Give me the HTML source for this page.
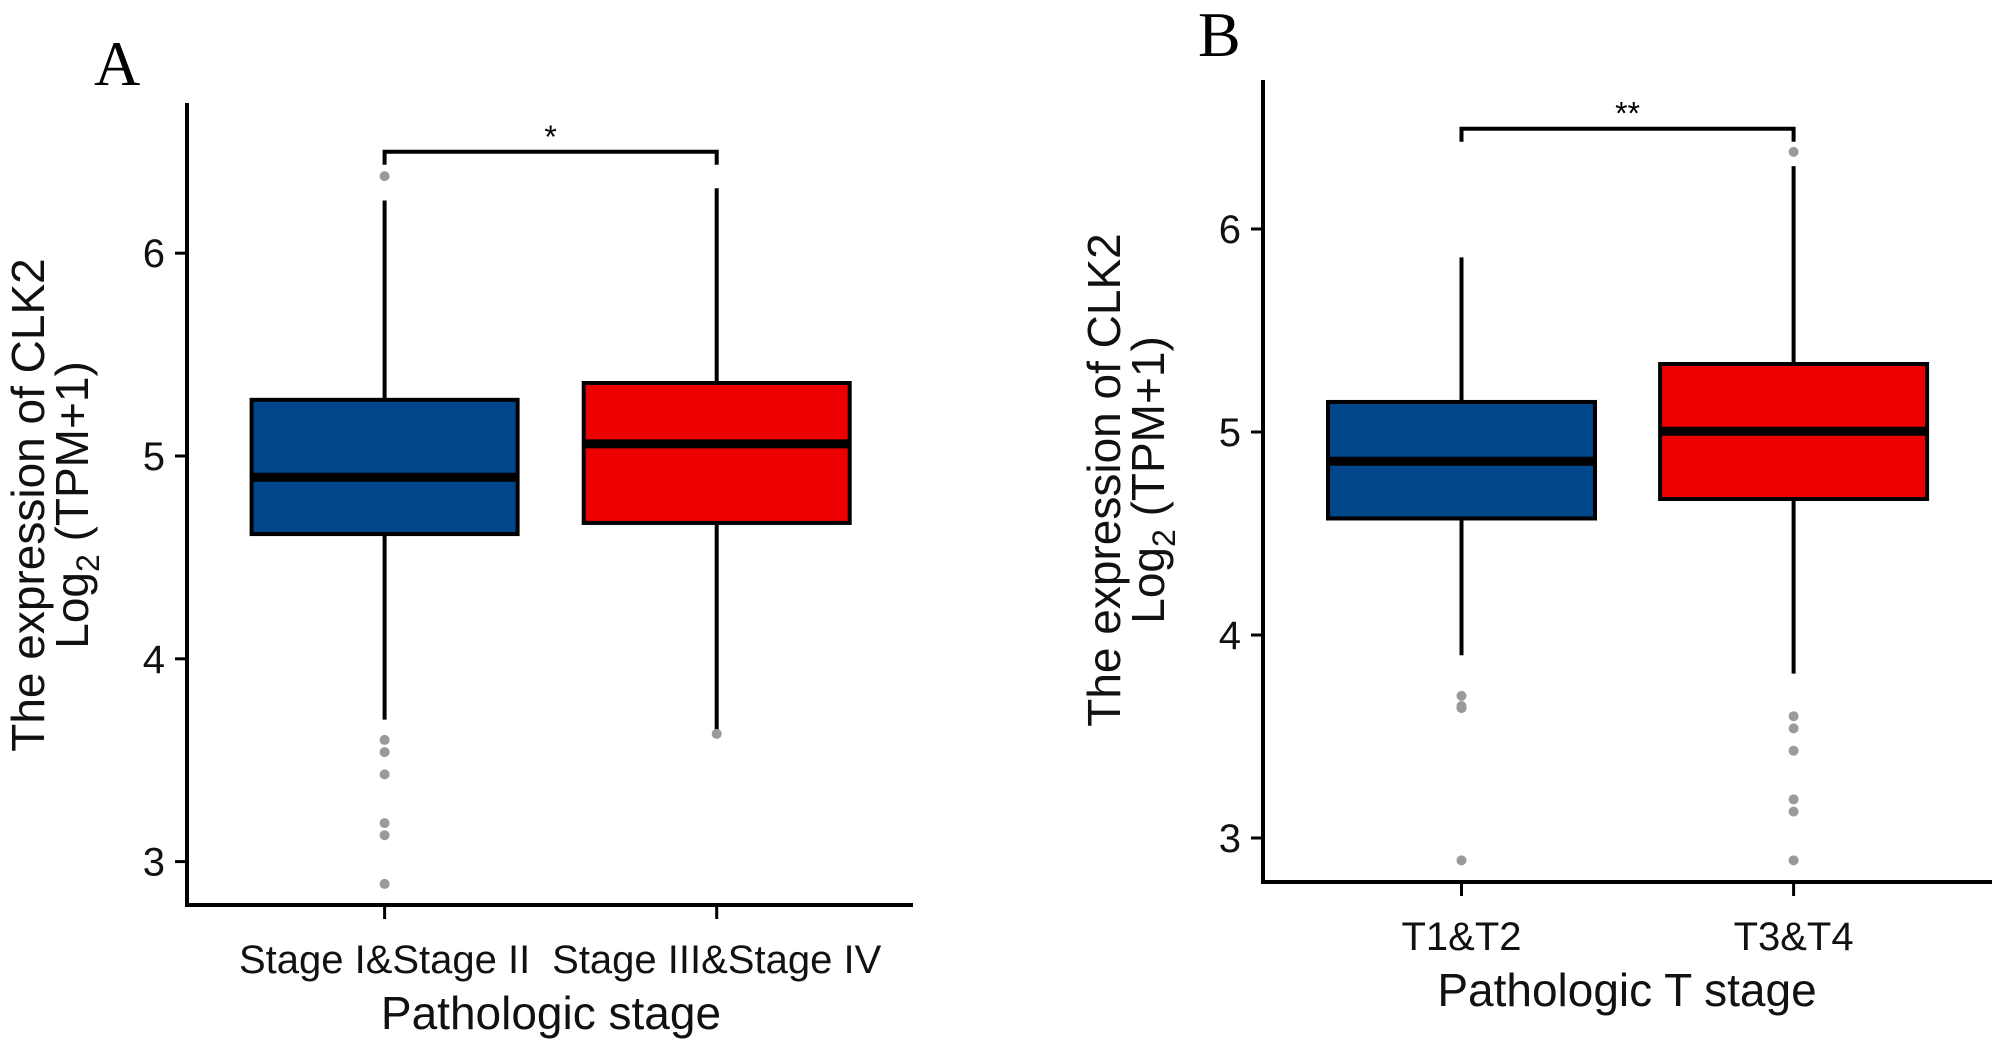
<!DOCTYPE html>
<html><head><meta charset="utf-8"><style>
html,body{margin:0;padding:0;background:#fff;}
svg{display:block;font-family:"Liberation Sans",sans-serif;}
</style></head><body>
<svg id="chart" width="2000" height="1044" viewBox="0 0 2000 1044" xmlns="http://www.w3.org/2000/svg"></svg>
<script>
// Panel A data
const catsA = ["Stage I&Stage II", "Stage III&Stage IV"];
const q1A = [4.615, 4.67];
const medA = [4.895, 5.06];
const q3A = [5.277, 5.36];
const loA = [3.70, 3.65];
const hiA = [6.26, 6.32];
const outA = [[6.38, 3.60, 3.54, 3.43, 3.19, 3.13, 2.89], [3.63]];
// Panel B data
const catsB = ["T1&T2", "T3&T4"];
const q1B = [4.574, 4.67];
const medB = [4.856, 5.004];
const q3B = [5.148, 5.335];
const loB = [3.90, 3.81];
const hiB = [5.86, 6.31];
const outB = [[3.70, 3.65, 3.64, 2.89], [6.38, 3.60, 3.54, 3.43, 3.19, 3.13, 2.89]];
const yTicks = [3, 4, 5, 6];
const colors = ["#00468B", "#ED0000"];

const svg = document.getElementById('chart');
const NS = "http://www.w3.org/2000/svg";
function mk(tag, attrs, parent) {
  const e = document.createElementNS(NS, tag);
  for (const k in attrs) e.setAttribute(k, attrs[k]);
  (parent || svg).appendChild(e);
  return e;
}

function panel(cfg) {
  const g = mk('g', {});
  
  
  const y = v => cfg.y5 - (v - 5) * cfg.unit;
  const xs = cfg.xs;
  const ya = mk('line', {x1: cfg.ax, y1: cfg.top, x2: cfg.ax, y2: cfg.bot + 2, stroke: '#000', 'stroke-width': 4}, g);
  
  
  const xa = mk('line', {x1: cfg.ax - 2, y1: cfg.bot, x2: cfg.right, y2: cfg.bot, stroke: '#000', 'stroke-width': 4}, g);
  
  
  yTicks.forEach(t => {
    const tk = mk('line', {x1: cfg.ax - 12, y1: y(t), x2: cfg.ax, y2: y(t), stroke: '#000', 'stroke-width': 3}, g);
    
    
    const tl = mk('text', {x: cfg.ax - 22, y: y(t) + 14, 'text-anchor': 'end', 'font-size': 40, fill: '#111'}, g);
    tl.textContent = t;
    
    
  });
  cfg.cats.forEach((c, i) => {
    const tk = mk('line', {x1: xs[i], y1: cfg.bot, x2: xs[i], y2: cfg.bot + 14, stroke: '#000', 'stroke-width': 3}, g);
    
    
    const tl = mk('text', {x: xs[i], y: cfg.bot + 68, 'text-anchor': 'middle', 'font-size': 40, fill: '#111'}, g);
    tl.textContent = c;
    
    
    const w = mk('line', {x1: xs[i], y1: y(cfg.hi[i]), x2: xs[i], y2: y(cfg.lo[i]), stroke: '#000', 'stroke-width': 4}, g);
    
    
    const bw = cfg.bw;
    const b = mk('rect', {x: xs[i] - bw / 2, y: y(cfg.q3[i]), width: bw, height: y(cfg.q1[i]) - y(cfg.q3[i]), fill: colors[i], stroke: '#000', 'stroke-width': 4}, g);
    
    
    const m = mk('line', {x1: xs[i] - bw / 2, y1: y(cfg.med[i]), x2: xs[i] + bw / 2, y2: y(cfg.med[i]), stroke: '#000', 'stroke-width': 9}, g);
    
    
    cfg.out[i].forEach(v => {
      const p = mk('circle', {cx: xs[i], cy: y(v), r: 5, fill: '#9a9a9a'}, g);
      
      
    });
  });
  const by = y(cfg.brk);
  const br = mk('path', {d: `M${xs[0]} ${by + 13} V${by} H${xs[1]} V${by + 13}`, fill: 'none', stroke: '#000', 'stroke-width': 4}, g);
  
  
  const st = mk('text', {x: (xs[0] + xs[1]) / 2, y: by - 4, 'text-anchor': 'middle', 'font-size': 32, fill: '#000'}, g);
  st.textContent = cfg.star;
  
  
  const xt = mk('text', {x: cfg.xtx, y: cfg.bot + 124, 'text-anchor': 'middle', 'font-size': 46, fill: '#111'}, g);
  xt.textContent = cfg.xtitle;
  
  
  const cy = cfg.ytc;
  const t1 = mk('text', {x: 0, y: 0, 'text-anchor': 'middle', 'font-size': 46, fill: '#111', transform: `translate(${cfg.ytx1},${cy}) rotate(-90)`}, g);
  t1.textContent = 'The expression of CLK2';
  
  
  const t2 = mk('text', {x: 0, y: 0, 'text-anchor': 'middle', 'font-size': 46, fill: '#111', transform: `translate(${cfg.ytx1 + 44},${cy}) rotate(-90)`}, g);
  t2.innerHTML = 'Log<tspan font-size="32" dy="11">2</tspan><tspan dy="-11"> (TPM+1)</tspan>';
  
  
  const pl = mk('text', {x: cfg.lx, y: cfg.ly, 'font-size': 64, 'font-family': '"Liberation Serif", serif', fill: '#000'}, g);
  pl.textContent = cfg.letter;
  
  
}

panel({name: 'panel-a', cats: catsA, q1: q1A, med: medA, q3: q3A, lo: loA, hi: hiA, out: outA,
  y5: 456, unit: 202.8, ax: 187, top: 103, bot: 905, right: 913, xs: [384.6, 716.7], bw: 266,
  brk: 6.50, star: '*', xtitle: 'Pathologic stage', xtx: 551, ytc: 505, ytx1: 44, lx: 94, ly: 85, letter: 'A'});
panel({name: 'panel-b', cats: catsB, q1: q1B, med: medB, q3: q3B, lo: loB, hi: hiB, out: outB,
  y5: 432, unit: 203, ax: 1263, top: 80, bot: 882, right: 1992, xs: [1461.5, 1793.6], bw: 267,
  brk: 6.494, star: '**', xtitle: 'Pathologic T stage', xtx: 1627, ytc: 480, ytx1: 1120, lx: 1198, ly: 56, letter: 'B'});
</script>
</body></html>
